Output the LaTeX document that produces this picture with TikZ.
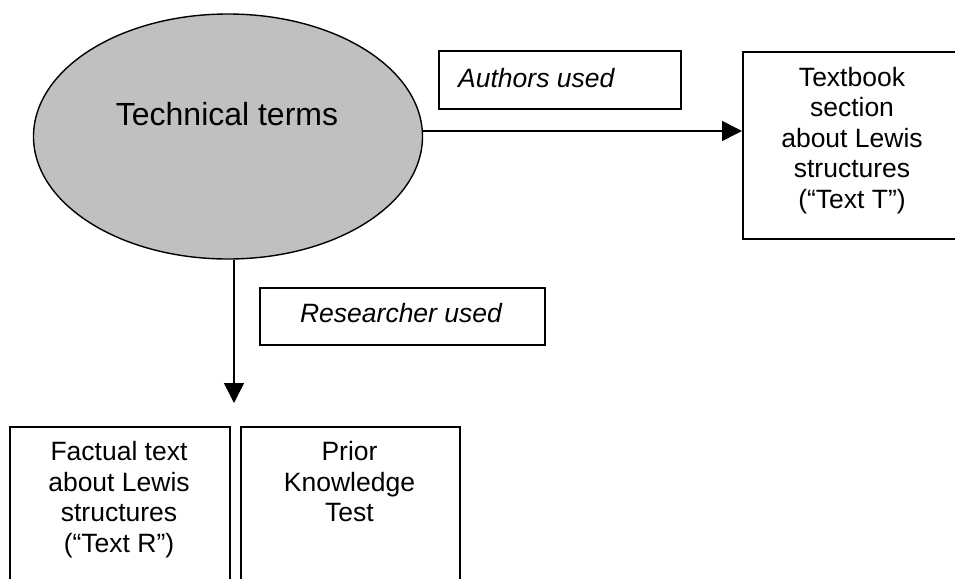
\documentclass[tikz,border=0pt]{standalone}
\usepackage{fontspec}
\setmainfont{Liberation Sans}
\usetikzlibrary{arrows.meta,shapes.geometric}
\newcommand\ctrlines[1]{\vtop{\halign{\hfil##\hfil\cr#1\crcr}}}
\definecolor{ellgray}{HTML}{C0C0C0}
\tikzset{
  boxshape/.style={draw, line width=1.6pt, inner sep=0pt, rectangle, anchor=north west},
  lbl/.style={inner sep=0pt, font=\fontsize{26.5pt}{30.5pt}\selectfont},
  ilbl/.style={inner sep=0pt, font=\fontsize{26.5pt}{30.5pt}\selectfont\itshape},
  arr/.style={line width=1.5pt, -{Triangle[length=20pt,width=20pt]}}
}
\begin{document}
\begin{tikzpicture}[x=1pt,y=-1pt]
\useasboundingbox (0,0) rectangle (955,578);
% ellipse
\node[ellipse, draw, fill=ellgray, line width=1.4pt, minimum width=389pt, minimum height=245pt, inner sep=0pt] (tt) at (228,136.5) {};
\node[inner sep=0pt, anchor=base, font=\fontsize{32pt}{36pt}\selectfont] (ttl) at (227,125) {Technical terms};
% boxes
\node[boxshape, minimum width=242pt, minimum height=58pt] (au) at (438,50) {};
\node[ilbl, anchor=base west] (aut) at (458,87) {Authors used};
\node[boxshape, minimum width=219pt, minimum height=187pt] (tb) at (742,51) {};
\node[lbl, anchor=base] (tbt) at (852,86) {\ctrlines{Textbook\cr section\cr about Lewis\cr structures\cr (“Text T”)}};
\node[boxshape, minimum width=285pt, minimum height=57pt] (ru) at (259,287) {};
\node[ilbl, anchor=base] (rut) at (401,322.7) {Researcher used};
\node[boxshape, minimum width=220pt, minimum height=200pt] (fr) at (9,426) {};
\node[lbl, anchor=base] (frt) at (119,460.7) {\ctrlines{Factual text\cr about Lewis\cr structures\cr (“Text R”)}};
\node[boxshape, minimum width=219pt, minimum height=200pt] (pk) at (240,426) {};
\node[lbl, anchor=base] (pkt) at (349.5,460.7) {\ctrlines{Prior\cr Knowledge\cr Test}};
% connectors
\coordinate (hy) at (0,131);
\coordinate (vx) at (234,0);
\coordinate (vtip) at (234,403);
\draw[arr] (tt.east |- hy) -- (tb.west |- hy);
\draw[arr] (tt.south -| vx) -- (vtip);
\end{tikzpicture}
\end{document}
